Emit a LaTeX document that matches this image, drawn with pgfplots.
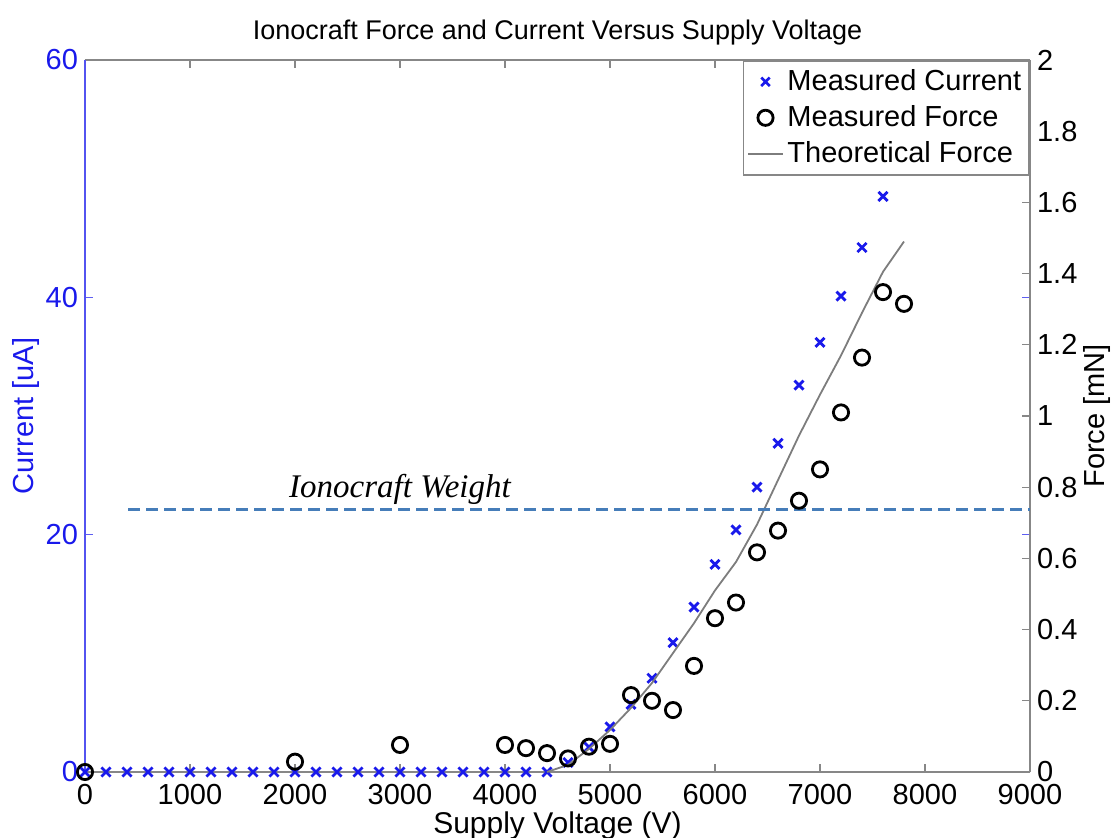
\documentclass[border=0pt]{standalone}
\usepackage{fontspec}
\setmainfont{Liberation Sans}
\newfontfamily\timesfont{Liberation Serif}
\usepackage{pgfplots}
\pgfplotsset{compat=1.18}
\definecolor{cblue}{RGB}{25,25,235}
\definecolor{axgray}{RGB}{135,135,135}
\definecolor{weight}{RGB}{70,125,185}
\definecolor{theo}{RGB}{125,125,125}

\pgfplotstableread{
V I
0 0
200 0
400 0
600 0
800 0
1000 0
1200 0
1400 0
1600 0
1800 0
2000 0
2200 0
2400 0
2600 0
2800 0
3000 0
3200 0
3400 0
3600 0
3800 0
4000 0
4200 0
4400 0
4600 0.8
4800 2.1
5000 3.8
5200 5.7
5400 7.9
5600 10.9
5800 13.9
6000 17.5
6200 20.4
6400 24.0
6600 27.7
6800 32.6
7000 36.2
7200 40.1
7400 44.2
7600 48.5
}\currenttable

\pgfplotstableread{
V F
0 0
2000 0.029
3000 0.076
4000 0.076
4200 0.067
4400 0.053
4600 0.038
4800 0.071
5000 0.079
5200 0.216
5400 0.200
5600 0.174
5800 0.298
6000 0.432
6200 0.476
6400 0.617
6600 0.678
6800 0.762
7000 0.850
7200 1.010
7400 1.164
7600 1.348
7800 1.315
}\forcetable

\pgfplotstableread{
V F
4400 0
4600 0.02
4800 0.065
5000 0.118
5200 0.18
5400 0.25
5600 0.334
5800 0.418
6000 0.51
6200 0.59
6400 0.695
6600 0.82
6800 0.945
7000 1.06
7200 1.17
7400 1.29
7600 1.405
7800 1.49
}\theotable

\begin{document}
\begin{tikzpicture}
\useasboundingbox (-42.5pt,-33pt) rectangle (513.5pt,386pt);
\begin{axis}[
  at={(0,0)}, anchor=south west,
  scale only axis, width=472.5pt, height=356pt,
  xmin=0, xmax=9000, ymin=0, ymax=60,
  xtick={0,1000,2000,3000,4000,5000,6000,7000,8000,9000},
  ytick={0,20,40,60},
  separate axis lines,
  x axis line style={axgray, line width=0.8pt},
  y axis line style={cblue!75, line width=0.9pt},
  xtick style={axgray, line width=0.6pt},
  ytick style={cblue!70, line width=0.6pt},
  major tick length=4pt,
  tick align=inside,
  ticklabel style={font=\fontsize{14.5}{16}\selectfont},
  yticklabel style={text=cblue},
  /pgf/number format/assume math mode=true,
  /pgf/number format/1000 sep={},
  scaled x ticks=false,
  xticklabel style={yshift=-2.5pt},
  xlabel={Supply Voltage (V)},
  xlabel style={font=\fontsize{15}{16}\selectfont, yshift=3.5pt},
  ylabel={Current [uA]},
  ylabel style={text=cblue, font=\fontsize{14.5}{16}\selectfont, yshift=-4pt},
  title={Ionocraft Force and Current Versus Supply Voltage},
  title style={font=\fontsize{13.5}{16}\selectfont, yshift=-2pt},
  clip=false,
]
\addplot[only marks, mark=x, mark size=3.2pt, draw=cblue, mark options={line width=1.4pt, solid}]
  table[x=V, y=I] {\currenttable};
\end{axis}
\begin{axis}[
  at={(0,0)}, anchor=south west,
  scale only axis, width=472.5pt, height=356pt,
  xmin=0, xmax=9000, ymin=0, ymax=2,
  axis x line=none,
  axis y line*=right,
  y axis line style={axgray, line width=0.8pt, -},
  ytick style={axgray, line width=0.6pt},
  major tick length=4pt,
  tick align=inside,
  ytick={0,0.2,0.4,0.6,0.8,1,1.2,1.4,1.6,1.8,2},
  yticklabels={0,0.2,0.4,0.6,0.8,1,1.2,1.4,1.6,1.8,2},
  ticklabel style={font=\fontsize{14.5}{16}\selectfont},
  ylabel={Force [mN]},
  ylabel style={font=\fontsize{14.5}{16}\selectfont, yshift=4pt},
  clip=false,
  legend style={at={(1,1)}, anchor=north east, draw=axgray, line width=0.8pt,
    font=\fontsize{14.5}{16}\selectfont, row sep=2pt,
    inner xsep=2pt, inner ysep=2.5pt},
  legend cell align=left,
]
\addlegendimage{only marks, mark=x, mark size=3pt, draw=cblue, mark options={line width=1.3pt}}
\addlegendentry{Measured Current}
\addplot[only marks, mark=o, mark size=3.8pt, draw=black, mark options={line width=1.4pt}]
  table[x=V, y=F] {\forcetable};
\addlegendentry{Measured Force}
\addplot[theo, line width=0.9pt, no marks]
  table[x=V, y=F] {\theotable};
\addlegendentry{Theoretical Force}
\addplot[weight, line width=1.5pt, dash pattern=on 6pt off 3pt, forget plot]
  coordinates {(410,0.736) (9000,0.736)};
\node[anchor=south, inner sep=2pt, font=\timesfont\itshape\fontsize{16.5}{18}\selectfont]
  at (axis cs:3000,0.74) {Ionocraft Weight};
\end{axis}
\end{tikzpicture}
\end{document}
